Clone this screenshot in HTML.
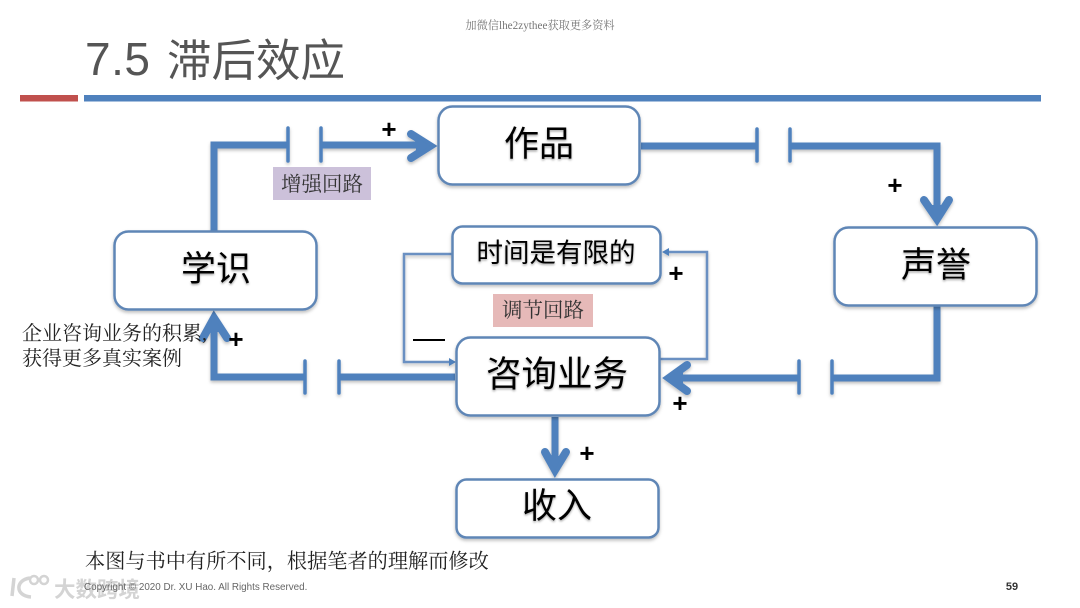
<!DOCTYPE html>
<html lang="zh">
<head>
<meta charset="utf-8">
<style>
html,body{margin:0;padding:0;background:#fff;}
svg{display:block;}
text{font-family:"Liberation Sans","Noto Sans CJK SC",sans-serif;}
.serif{font-family:"Liberation Serif","Noto Serif CJK SC",serif;}
</style>
</head>
<body>
<svg width="1080" height="608" viewBox="0 0 1080 608" xmlns="http://www.w3.org/2000/svg">
<defs>
<filter id="b" x="-10%" y="-10%" width="120%" height="130%"><feDropShadow dx="0" dy="2" stdDeviation="1.5" flood-color="#000" flood-opacity="0.25"/></filter>
<filter id="t" x="-10%" y="-10%" width="120%" height="130%"><feDropShadow dx="0" dy="1.5" stdDeviation="1" flood-color="#000" flood-opacity="0.35"/></filter>
</defs>
<rect width="1080" height="608" fill="#fff"/>

<text x="540" y="29" font-size="11.200" fill="#777" text-anchor="middle" class="serif">加微信lhe2zythee获取更多资料</text>
<text x="85" y="75" font-size="46" fill="#555" letter-spacing="0.5">7.5</text>
<text x="167" y="76" font-size="44.500" fill="#555">滞后效应</text>
<rect x="20" y="95" width="58" height="6.5" fill="#c0504d"/>
<rect x="84" y="95" width="957" height="6.5" fill="#4f81bd"/>

<g fill="none" stroke="#4f81bd" filter="url(#b)">
  <g stroke-width="7">
    <path d="M214 232V145H287"/>
    <path d="M322 145H430"/>
    <path d="M641 146H757"/>
    <path d="M790 146H937V219"/>
    <path d="M937 306V378H832"/>
    <path d="M800 378H669"/>
    <path d="M455 377H339"/>
    <path d="M305 377H214V318"/>
    <path d="M555 417V470"/>
  </g>
  <g stroke-width="8" stroke-linecap="round" stroke-linejoin="miter" stroke-miterlimit="6">
    <path d="M411 134L430 146L411 158"/>
    <path d="M924 200L937 219L949 200"/>
    <path d="M687 365L669 378L687 391"/>
    <path d="M203 338L214 318L227 338"/>
    <path d="M545 452L555 470L566 452"/>
  </g>
  <g fill="#4f81bd" stroke="none">
    <path d="M430 146L416 137V155Z"/>
    <path d="M937 219L928 205H946Z"/>
    <path d="M669 378L683 368V388Z"/>
    <path d="M214 318L206 332H223Z"/>
    <path d="M555 470L548 456H562Z"/>
  </g>
  <g stroke-width="3.500" stroke-linecap="round">
    <path d="M288 128V161M321 128V161"/>
    <path d="M757 129V161M790 129V161"/>
    <path d="M305 361V393M339 361V393"/>
    <path d="M799 361V393M832 361V393"/>
  </g>
  <g stroke-width="2.500" stroke="#6a90c2">
    <path d="M452 254H404V362H452"/>
    <path d="M660 359H707V252H668"/>
  </g>
  <g fill="#4f81bd" stroke="none">
    <path d="M456 362L449 358V366Z"/>
    <path d="M662 252L669 248V256Z"/>
  </g>
</g>

<g fill="#fff" stroke="#5f86b6" stroke-width="2.500" filter="url(#b)">
  <rect x="438.500" y="106.500" width="201" height="78" rx="14"/>
  <rect x="114.500" y="231.500" width="202" height="78" rx="14"/>
  <rect x="834.500" y="227.500" width="202" height="78" rx="14"/>
  <rect x="452.500" y="226.500" width="208" height="57" rx="10"/>
  <rect x="456.500" y="337.500" width="203" height="78" rx="14"/>
  <rect x="456.500" y="479.500" width="202" height="58" rx="10"/>
</g>

<g fill="#000" text-anchor="middle" filter="url(#t)">
  <text x="539" y="156" font-size="35">作品</text>
  <text x="216" y="281" font-size="35">学识</text>
  <text x="936" y="277" font-size="35">声誉</text>
  <text x="556" y="262" font-size="26.500">时间是有限的</text>
  <text x="557" y="386" font-size="35.500">咨询业务</text>
  <text x="557" y="518" font-size="35">收入</text>
</g>

<rect x="273" y="167" width="98" height="33" fill="#ccc1da"/>
<text x="322" y="191" font-size="20.500" fill="#333" text-anchor="middle" class="serif">增强回路</text>
<rect x="493" y="294" width="100" height="33" fill="#e6b9b8"/>
<text x="543" y="317" font-size="20.500" fill="#333" text-anchor="middle" class="serif">调节回路</text>

<g fill="#000" font-size="26" font-weight="bold" text-anchor="middle">
  <text x="389" y="138">+</text>
  <text x="895" y="194">+</text>
  <text x="676" y="282">+</text>
  <text x="236" y="348">+</text>
  <text x="680" y="412">+</text>
  <text x="587" y="462">+</text>
</g>
<rect x="413" y="339" width="32" height="2" fill="#000"/>

<g fill="#222">
  <text x="22" y="340" font-size="20" class="serif">企业咨询业务的积累,</text>
  <text x="22" y="365" font-size="20" class="serif">获得更多真实案例</text>
  <text x="85" y="568" font-size="20.200" class="serif">本图与书中有所不同，根据笔者的理解而修改</text>
</g>

<g fill="none" stroke="#d4d4d4" stroke-width="3.500">
  <path d="M14 578L12 596"/>
  <path d="M30 578C15 580 15 596 31 597"/>
  <circle cx="34" cy="580" r="4" stroke-width="2.500"/>
  <circle cx="44" cy="580" r="4" stroke-width="2.500"/>
</g>
<text x="54" y="597" font-size="21.500" font-weight="bold" fill="#d4d4d4">大数跨境</text>
<text x="84" y="590" font-size="9.850" fill="#666">Copyright © 2020 Dr. XU Hao. All Rights Reserved.</text>
<text x="1012" y="590" font-size="11" font-weight="bold" fill="#333" text-anchor="middle">59</text>
</svg>
</body>
</html>
